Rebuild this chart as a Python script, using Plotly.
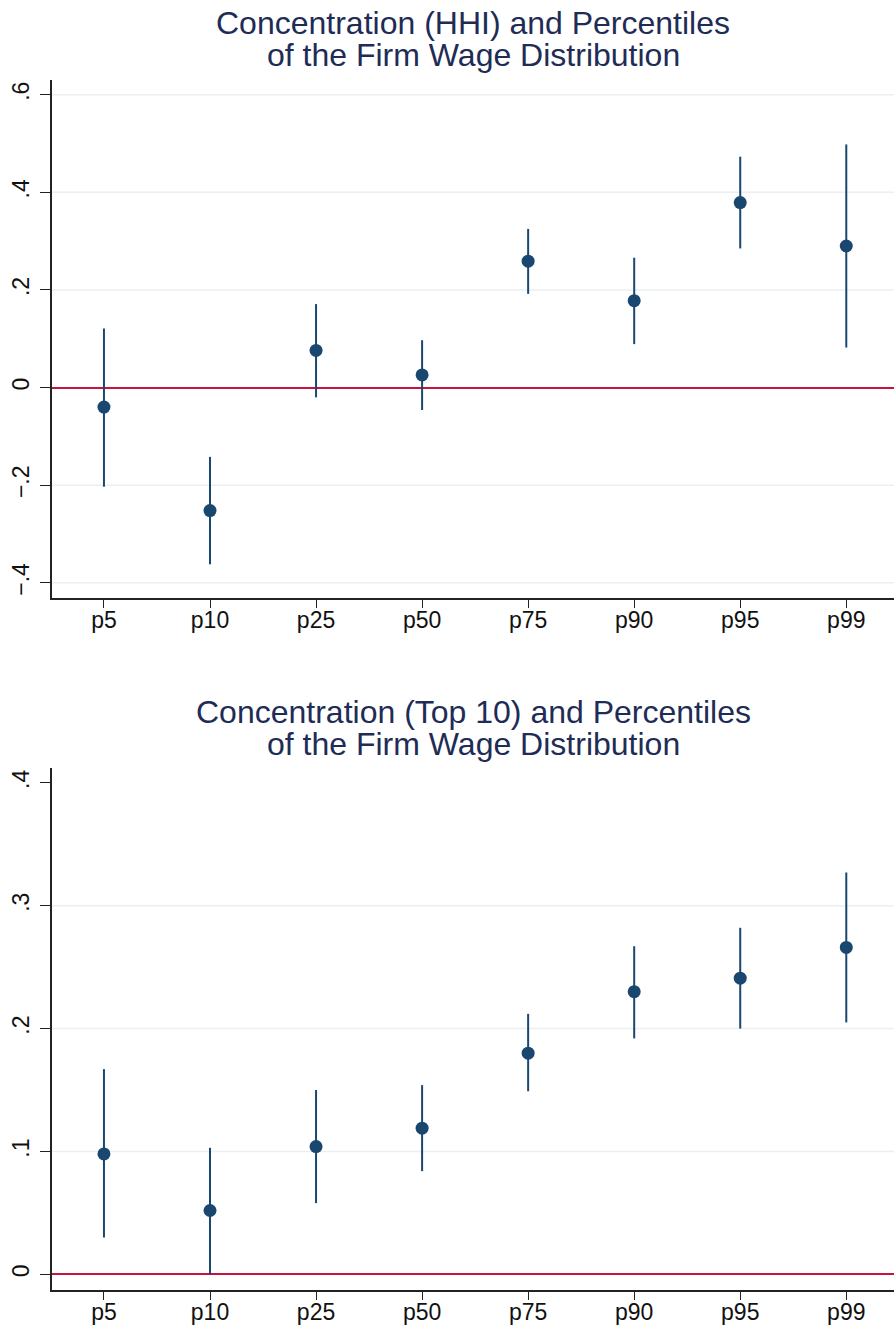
import plotly.graph_objects as go

categories = ["p5", "p10", "p25", "p50", "p75", "p90", "p95", "p99"]

# Panel 1: HHI
hhi_coef = [-0.040, -0.252, 0.076, 0.026, 0.259, 0.178, 0.379, 0.290]
hhi_lo = [-0.203, -0.362, -0.020, -0.046, 0.192, 0.089, 0.285, 0.082]
hhi_hi = [0.121, -0.142, 0.171, 0.097, 0.325, 0.266, 0.473, 0.498]

# Panel 2: Top 10
top_coef = [0.098, 0.052, 0.104, 0.119, 0.180, 0.230, 0.241, 0.266]
top_lo = [0.030, 0.000, 0.058, 0.084, 0.149, 0.192, 0.200, 0.205]
top_hi = [0.167, 0.103, 0.150, 0.154, 0.212, 0.267, 0.282, 0.327]

hhi_ticks = [-0.4, -0.2, 0, 0.2, 0.4, 0.6]
hhi_ticktext = ["\u2212.4", "\u2212.2", "0", ".2", ".4", ".6"]
hhi_grid = [-0.4, -0.2, 0.2, 0.4, 0.6]
top_ticks = [0, 0.1, 0.2, 0.3, 0.4]
top_ticktext = ["0", ".1", ".2", ".3", ".4"]
top_grid = [0.1, 0.2, 0.3]

title1 = ["Concentration (HHI) and Percentiles", "of the Firm Wage Distribution"]
title2 = ["Concentration (Top 10) and Percentiles", "of the Firm Wage Distribution"]

NAVY = "#1a476f"
RED = "#c8143c"
GRID = "#e9f0f2"
TITLE = "#1e2c56"
AXIS = "#222222"
FONT = "Liberation Sans, Arial, Helvetica, sans-serif"

fig = go.Figure()

def add_panel(coef, lo, hi, xa, ya):
    fig.add_trace(go.Scatter(
        x=categories, y=coef, mode="markers",
        marker=dict(color=NAVY, size=13),
        error_y=dict(type="data", symmetric=False,
                     array=[h - c for h, c in zip(hi, coef)],
                     arrayminus=[c - l for c, l in zip(coef, lo)],
                     color=NAVY, thickness=2, width=0),
        xaxis=xa, yaxis=ya, showlegend=False, hoverinfo="skip"))

add_panel(hhi_coef, hhi_lo, hhi_hi, "x", "y")
add_panel(top_coef, top_lo, top_hi, "x2", "y2")

xcommon = dict(
    type="category", categoryorder="array", categoryarray=categories,
    range=[-0.49, 7.45], showgrid=False, zeroline=False, automargin=False,
    showline=True, linecolor=AXIS, linewidth=1.5,
    ticks="outside", ticklen=8, tickwidth=1.2, tickcolor=AXIS,
    ticklabelstandoff=-7,
    tickfont=dict(family=FONT, size=23, color="#111111"),
)
ycommon = dict(
    showgrid=False, showline=True, linecolor=AXIS, linewidth=1.5,
    ticks="outside", ticklen=10, tickwidth=1.2, tickcolor=AXIS, automargin=False,
    tickangle=-90, tickfont=dict(family=FONT, size=23, color="#111111"),
    ticklabelstandoff=2,
    zeroline=True, zerolinecolor=RED, zerolinewidth=2,
)

fig.update_layout(
    width=894, height=1326,
    margin=dict(l=52, r=0, t=80, b=36),
    paper_bgcolor="white", plot_bgcolor="white",
    xaxis=dict(xcommon, anchor="y", domain=[0, 1]),
    yaxis=dict(ycommon, anchor="x", domain=[0.5719, 1.0],
               range=[-0.431, 0.630], tickmode="array",
               tickvals=hhi_ticks, ticktext=hhi_ticktext),
    xaxis2=dict(xcommon, anchor="y2", domain=[0, 1]),
    yaxis2=dict(ycommon, anchor="x2", domain=[0, 0.4314],
                range=[-0.0127, 0.412], tickmode="array",
                tickvals=top_ticks, ticktext=top_ticktext),
)

shapes = []
for g in hhi_grid:
    shapes.append(dict(type="line", xref="x domain", yref="y", x0=0, x1=1,
                       y0=g, y1=g, line=dict(color=GRID, width=1.5), layer="below"))
for g in top_grid:
    shapes.append(dict(type="line", xref="x2 domain", yref="y2", x0=0, x1=1,
                       y0=g, y1=g, line=dict(color=GRID, width=1.5), layer="below"))
fig.update_layout(shapes=shapes)

anns = []
for text, yv in zip(title1, [1.0475, 1.0210]):
    anns.append(dict(text=text, xref="paper", yref="paper", x=0.5, y=yv,
                     xanchor="center", yanchor="middle", showarrow=False,
                     font=dict(family=FONT, size=32, color=TITLE)))
for text, yv in zip(title2, [0.4780, 0.4515]):
    anns.append(dict(text=text, xref="paper", yref="paper", x=0.5, y=yv,
                     xanchor="center", yanchor="middle", showarrow=False,
                     font=dict(family=FONT, size=32, color=TITLE)))
fig.update_layout(annotations=anns)

fig.write_html("out.html", config={"displayModeBar": False},
               post_script="document.body.style.margin='0';")
